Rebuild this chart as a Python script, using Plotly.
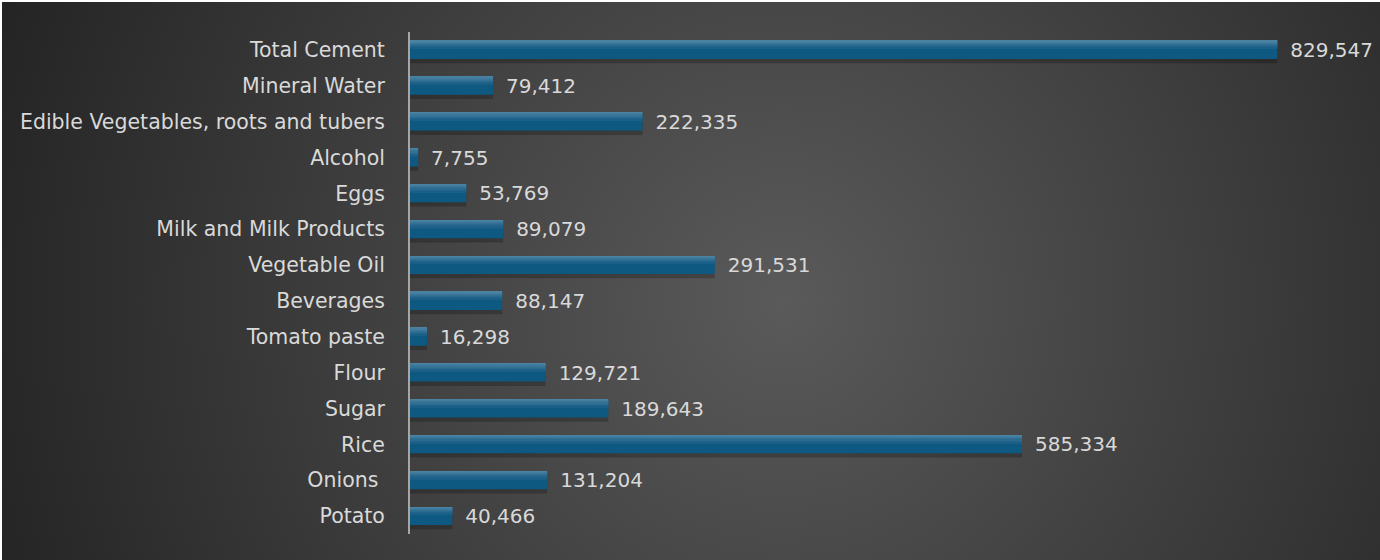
import base64
import plotly.graph_objects as go

categories = ["Total Cement", "Mineral Water", "Edible Vegetables, roots and tubers", "Alcohol",
              "Eggs", "Milk and Milk Products", "Vegetable Oil", "Beverages", "Tomato paste",
              "Flour", "Sugar", "Rice", "Onions ", "Potato"]
values = [829547, 79412, 222335, 7755, 53769, 89079, 291531, 88147, 16298,
          129721, 189643, 585334, 131204, 40466]

W, H = 1380, 560
L, R, T, B = 408, 31, 30, 28
pw = W - L - R
ph = H - T - B
FONT = "DejaVu Sans"

svg = f'''<svg xmlns="http://www.w3.org/2000/svg" width="{W}" height="{H}">
<defs><radialGradient id="g" gradientUnits="userSpaceOnUse" cx="780" cy="300" r="820">
<stop offset="0%" stop-color="#5a5a5a"/><stop offset="100%" stop-color="#252525"/></radialGradient></defs>
<rect width="{W}" height="{H}" fill="url(#g)"/></svg>'''
src = "data:image/svg+xml;base64," + base64.b64encode(svg.encode()).decode()

fig = go.Figure()
bw = 0.5
# soft shadow
fig.add_trace(go.Bar(y=categories, x=values, orientation="h", width=bw + 0.08, offset=-bw / 2 + 0.04,
                     marker=dict(color="rgba(0,0,0,0.22)", line=dict(width=0)), hoverinfo="skip"))
# main bar
fig.add_trace(go.Bar(y=categories, x=values, orientation="h", width=bw, offset=-bw / 2,
                     marker=dict(color="#0d5981", line=dict(width=0)),
                     texttemplate="\u2002%{x:,}", textposition="outside", constraintext="none",
                     textfont=dict(size=20, color="#d9d9d9", family=FONT),
                     cliponaxis=False))
# gradient highlight strips (lighter top edge)
strips = ["#4b82a2", "#437d9f", "#3a7699", "#327094", "#2a6a8f", "#22648b", "#1a5f87"]
sw = 0.032
for k, c in enumerate(strips):
    fig.add_trace(go.Bar(y=categories, x=values, orientation="h", width=sw, offset=-bw / 2 + k * sw,
                         marker=dict(color=c, line=dict(width=0)), hoverinfo="skip"))

fig.update_layout(
    width=W, height=H, barmode="overlay", showlegend=False,
    margin=dict(l=L, r=R, t=T, b=B),
    paper_bgcolor="#2b2b2b", plot_bgcolor="rgba(0,0,0,0)",
    images=[dict(source=src, xref="paper", yref="paper", x=-L / pw, y=1 + T / ph,
                 sizex=W / pw, sizey=H / ph, sizing="stretch", layer="below",
                 xanchor="left", yanchor="top")],
    xaxis=dict(range=[0, 900000], visible=False, showgrid=False, zeroline=False),
    yaxis=dict(categoryorder="array", categoryarray=categories, autorange="reversed",
               showline=True, linecolor="#a6a6a6", linewidth=2, showgrid=False,
               ticks="", ticklabelstandoff=19,
               tickfont=dict(size=20.5, color="#d9d9d9", family=FONT)),
    font=dict(family=FONT),
)
fig.write_html("out.html",
               post_script="document.body.style.margin='2px 0 0 2px';document.body.style.overflow='hidden';")
